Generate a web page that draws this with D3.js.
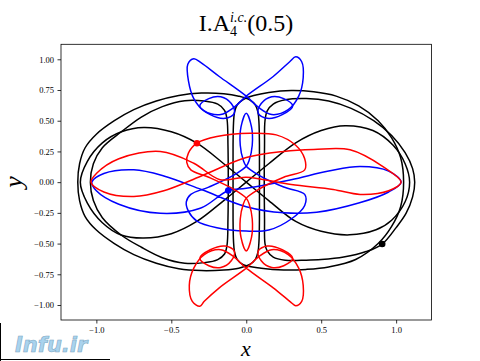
<!DOCTYPE html>
<html><head><meta charset="utf-8">
<script src="https://cdn.jsdelivr.net/npm/d3@7"></script>
<style>body{margin:0;background:#fff}svg{display:block}</style>
</head><body>
<svg id="c" width="480" height="361"></svg>
<script>
const xTicks=[-1.0,-0.5,0.0,0.5,1.0];
const yTicks=[-1.0,-0.75,-0.5,-0.25,0.0,0.25,0.5,0.75,1.0];
const xDomain=[-1.236,1.236];
const yDomain=[-1.122,1.122];
// black trajectory (closed loops)
const blackOuterL=[[-1.124,0],[-1.112,0.15],[-1.075,0.28],[-1.0,0.39],[-0.88,0.50],[-0.75,0.59],[-0.6,0.66],[-0.45,0.705],[-0.3,0.725],[-0.15,0.72],[-0.05,0.70],[0.02,0.672],[0.06,0.63],[0.078,0.57],[0.085,0.48],[0.088,0.3],[0.088,0],[0.088,-0.3],[0.085,-0.48],[0.078,-0.57],[0.06,-0.63],[0.02,-0.672],[-0.05,-0.70],[-0.15,-0.715],[-0.3,-0.72],[-0.45,-0.705],[-0.6,-0.66],[-0.75,-0.59],[-0.88,-0.50],[-1.0,-0.39],[-1.075,-0.28],[-1.112,-0.15]];
const blackOuterR=[[-0.088,0],[-0.088,0.3],[-0.085,0.48],[-0.078,0.57],[-0.06,0.63],[-0.02,0.672],[0.05,0.705],[0.15,0.73],[0.3,0.745],[0.45,0.735],[0.6,0.70],[0.75,0.62],[0.88,0.50],[0.97,0.36],[1.03,0.2],[1.05,0],[1.03,-0.2],[0.97,-0.36],[0.88,-0.50],[0.73,-0.63],[0.55,-0.69],[0.4,-0.71],[0.25,-0.715],[0.1,-0.70],[-0.02,-0.672],[-0.06,-0.63],[-0.078,-0.57],[-0.085,-0.48],[-0.088,-0.3]];
const blackInnerL=[[-1.04,0],[-1.02,0.15],[-0.96,0.28],[-0.833,0.41],[-0.70,0.53],[-0.56,0.615],[-0.41,0.663],[-0.28,0.66],[-0.19,0.635],[-0.145,0.585],[-0.128,0.51],[-0.122,0.3],[-0.12,0],[-0.122,-0.3],[-0.128,-0.51],[-0.145,-0.585],[-0.19,-0.63],[-0.28,-0.655],[-0.41,-0.66],[-0.56,-0.615],[-0.70,-0.53],[-0.835,-0.43],[-0.96,-0.29],[-1.02,-0.15]];
const blackInnerR=[[0.12,0],[0.122,0.3],[0.125,0.5],[0.14,0.58],[0.18,0.635],[0.26,0.67],[0.4,0.68],[0.55,0.66],[0.7,0.6],[0.85,0.5],[0.97,0.38],[1.06,0.24],[1.11,0.11],[1.124,0],[1.11,-0.12],[1.066,-0.255],[1.0,-0.37],[0.907,-0.504],[0.8,-0.565],[0.65,-0.61],[0.5,-0.63],[0.4,-0.635],[0.26,-0.635],[0.18,-0.61],[0.14,-0.56],[0.125,-0.5],[0.122,-0.3]];
const blackFig8=[[0,0],[-0.15,0.15],[-0.329,0.317],[-0.5,0.41],[-0.684,0.445],[-0.833,0.41],[-0.96,0.32],[-1.06,0.17],[-1.107,0],[-1.06,-0.17],[-0.96,-0.33],[-0.835,-0.43],[-0.684,-0.455],[-0.5,-0.42],[-0.33,-0.32],[-0.15,-0.15],[0,0],[0.15,0.15],[0.33,0.32],[0.5,0.42],[0.66,0.46],[0.845,0.42],[0.98,0.3],[1.06,0.15],[1.09,0],[1.06,-0.16],[0.97,-0.31],[0.866,-0.388],[0.689,-0.429],[0.5,-0.40],[0.33,-0.32],[0.15,-0.15]];
// blue trajectory pieces
const blueWings=[[0,0.70],[-0.18,0.86],[-0.30,0.97],[-0.35,1.005],[-0.39,0.96],[-0.385,0.82],[-0.35,0.68],[-0.28,0.58],[-0.17,0.55],[-0.08,0.61],[0,0.70],[0.18,0.86],[0.29,0.98],[0.33,1.02],[0.37,0.98],[0.38,0.85],[0.35,0.70],[0.28,0.59],[0.17,0.55],[0.08,0.61]];
const blueSmallL=[[-0.31,0.62],[-0.25,0.68],[-0.17,0.695],[-0.10,0.64],[-0.08,0.56],[-0.14,0.52],[-0.24,0.55]];
const blueSmallR=[[0.31,0.62],[0.25,0.68],[0.17,0.695],[0.10,0.64],[0.08,0.56],[0.14,0.52],[0.24,0.55]];
const blueLensCircle=[[0,0.56],[0.035,0.45],[0.04,0.3],[0.02,0.18],[0,0.13],[-0.08,0.06],[-0.25,-0.04],[-0.37,-0.10],[-0.40,-0.16],[-0.386,-0.236],[-0.329,-0.317],[-0.196,-0.371],[0.0,-0.398],[0.15,-0.39],[0.30,-0.30],[0.39,-0.19],[0.39,-0.10],[0.25,-0.04],[0.08,0.06],[0,0.13],[-0.02,0.18],[-0.04,0.3],[-0.035,0.45]];
const blueLobes=[[-1.03,0],[-0.95,0.07],[-0.75,0.10],[-0.55,0.05],[-0.3,-0.06],[0,-0.20],[0.25,-0.25],[0.47,-0.245],[0.75,-0.17],[0.95,-0.08],[1.033,0],[0.95,0.09],[0.76,0.127],[0.55,0.09],[0.3,0.02],[0,-0.05],[-0.122,-0.07],[-0.307,-0.213],[-0.573,-0.254],[-0.85,-0.18],[-1.0,-0.07]];
// red trajectory pieces
const redWings=[[0,-0.70],[-0.18,-0.86],[-0.28,-0.97],[-0.31,-1.01],[-0.36,-0.97],[-0.38,-0.84],[-0.35,-0.70],[-0.28,-0.59],[-0.17,-0.55],[-0.08,-0.61],[0,-0.70],[0.18,-0.86],[0.30,-0.98],[0.33,-1.006],[0.37,-0.97],[0.38,-0.84],[0.35,-0.70],[0.28,-0.59],[0.17,-0.55],[0.08,-0.61]];
const redSmallL=[[-0.31,-0.62],[-0.25,-0.68],[-0.17,-0.695],[-0.10,-0.64],[-0.08,-0.56],[-0.14,-0.52],[-0.24,-0.55]];
const redSmallR=[[0.31,-0.62],[0.25,-0.68],[0.17,-0.695],[0.10,-0.64],[0.08,-0.56],[0.14,-0.52],[0.24,-0.55]];
const redLensCircle=[[0,-0.56],[0.035,-0.45],[0.04,-0.3],[0.02,-0.18],[0,-0.13],[-0.08,-0.06],[-0.25,0.04],[-0.37,0.10],[-0.397,0.16],[-0.386,0.236],[-0.329,0.317],[-0.196,0.371],[0.025,0.398],[0.2,0.385],[0.33,0.30],[0.39,0.19],[0.39,0.10],[0.25,0.04],[0.08,-0.06],[0,-0.13],[-0.02,-0.18],[-0.04,-0.3],[-0.035,-0.45]];
const redLobes=[[-1.036,0],[-0.95,-0.08],[-0.75,-0.117],[-0.55,-0.07],[-0.3,0.05],[0,0.20],[0.25,0.25],[0.45,0.265],[0.693,0.263],[0.92,0.12],[1.033,0],[0.95,-0.07],[0.76,-0.1],[0.58,-0.06],[0.3,-0.02],[0,0.04],[-0.175,0.02],[-0.35,0.154],[-0.573,0.249],[-0.85,0.19],[-1.0,0.07]];
const dots=[{x:-0.329,y:0.317,c:"#ff0000"},{x:-0.12,y:-0.068,c:"#0000ff"},{x:0.907,y:-0.504,c:"#000000"}];

const svg=d3.select("#c");
const L=61,R=431.5,T=44.3,B=320;
const x=d3.scaleLinear().domain(xDomain).range([L,R]);
const y=d3.scaleLinear().domain(yDomain).range([B,T]);
const line=d3.line().x(d=>x(d[0])).y(d=>y(d[1])).curve(d3.curveCatmullRomClosed.alpha(0.5));
const g=svg.append("g");
svg.append("clipPath").attr("id","cp").append("rect").attr("x",L).attr("y",T).attr("width",R-L).attr("height",B-T);
const plot=g.append("g").attr("clip-path","url(#cp)");
function draw(arr,col){plot.append("path").attr("d",line(arr)).attr("fill","none").attr("stroke",col).attr("stroke-width",1.5);}
[blackOuterL,blackOuterR,blackInnerL,blackInnerR,blackFig8].forEach(a=>draw(a,"#000"));
[blueWings,blueSmallL,blueSmallR,blueLensCircle,blueLobes].forEach(a=>draw(a,"#0000ff"));
[redWings,redSmallL,redSmallR,redLensCircle,redLobes].forEach(a=>draw(a,"#ff0000"));
plot.selectAll("circle.d").data(dots).enter().append("circle").attr("cx",d=>x(d.x)).attr("cy",d=>y(d.y)).attr("r",3.3).attr("fill",d=>d.c);
const fmtX=d=>(d<0?"\u2212":"")+Math.abs(d).toFixed(1);
const fmtY=d=>(d<0?"\u2212":"")+Math.abs(d).toFixed(2);
const xa=d3.axisBottom(x).tickValues(xTicks).tickFormat(fmtX).tickSize(3.5).tickPadding(3.5);
const ya=d3.axisLeft(y).tickValues(yTicks).tickFormat(fmtY).tickSize(3.5).tickPadding(3.5);
const gx=g.append("g").attr("transform",`translate(0,${B})`).call(xa);
const gy=g.append("g").attr("transform",`translate(${L},0)`).call(ya);
[gx,gy].forEach(a=>{a.select(".domain").remove();a.selectAll("line").attr("stroke","#000").attr("stroke-width",0.8);a.selectAll("text").attr("font-family","'Liberation Serif','DejaVu Serif',serif").attr("font-size",8.5).attr("fill","#000");});
g.append("rect").attr("x",L).attr("y",T).attr("width",R-L).attr("height",B-T).attr("fill","none").attr("stroke","#000").attr("stroke-width",0.8);
// title
const t=svg.append("text").attr("x",246).attr("y",31).attr("text-anchor","middle").attr("font-family","'Liberation Serif','DejaVu Serif',serif").attr("font-size",24).attr("fill","#000");
t.append("tspan").text("I.A");
t.append("tspan").attr("font-size",14).attr("dy",5).text("4");
t.append("tspan").attr("font-size",14).attr("font-style","italic").attr("dx",-7).attr("dy",-14).text("i.c.");
t.append("tspan").attr("dy",9).text("(0.5)");
svg.append("text").attr("x",246).attr("y",356).attr("text-anchor","middle").attr("font-family","'Liberation Serif','DejaVu Serif',serif").attr("font-style","italic").attr("font-size",22).text("x");
svg.append("text").attr("transform","translate(22,182) rotate(-90)").attr("text-anchor","middle").attr("font-family","'Liberation Serif','DejaVu Serif',serif").attr("font-style","italic").attr("font-size",26).text("y");
// watermark
svg.append("line").attr("x1",0.5).attr("y1",323).attr("x2",0.5).attr("y2",361).attr("stroke","#000").attr("stroke-width",1);
svg.append("line").attr("x1",0).attr("y1",359.5).attr("x2",110).attr("y2",359.5).attr("stroke","#000").attr("stroke-width",1);
svg.append("text").attr("x",15).attr("y",352).attr("font-family","'DejaVu Sans',sans-serif").attr("font-weight","bold").attr("font-style","italic").attr("font-size",21).attr("fill","#a9d3ee").attr("stroke","#7fa9c4").attr("stroke-width",0.6).text("Infu.ir");
</script></body></html>
